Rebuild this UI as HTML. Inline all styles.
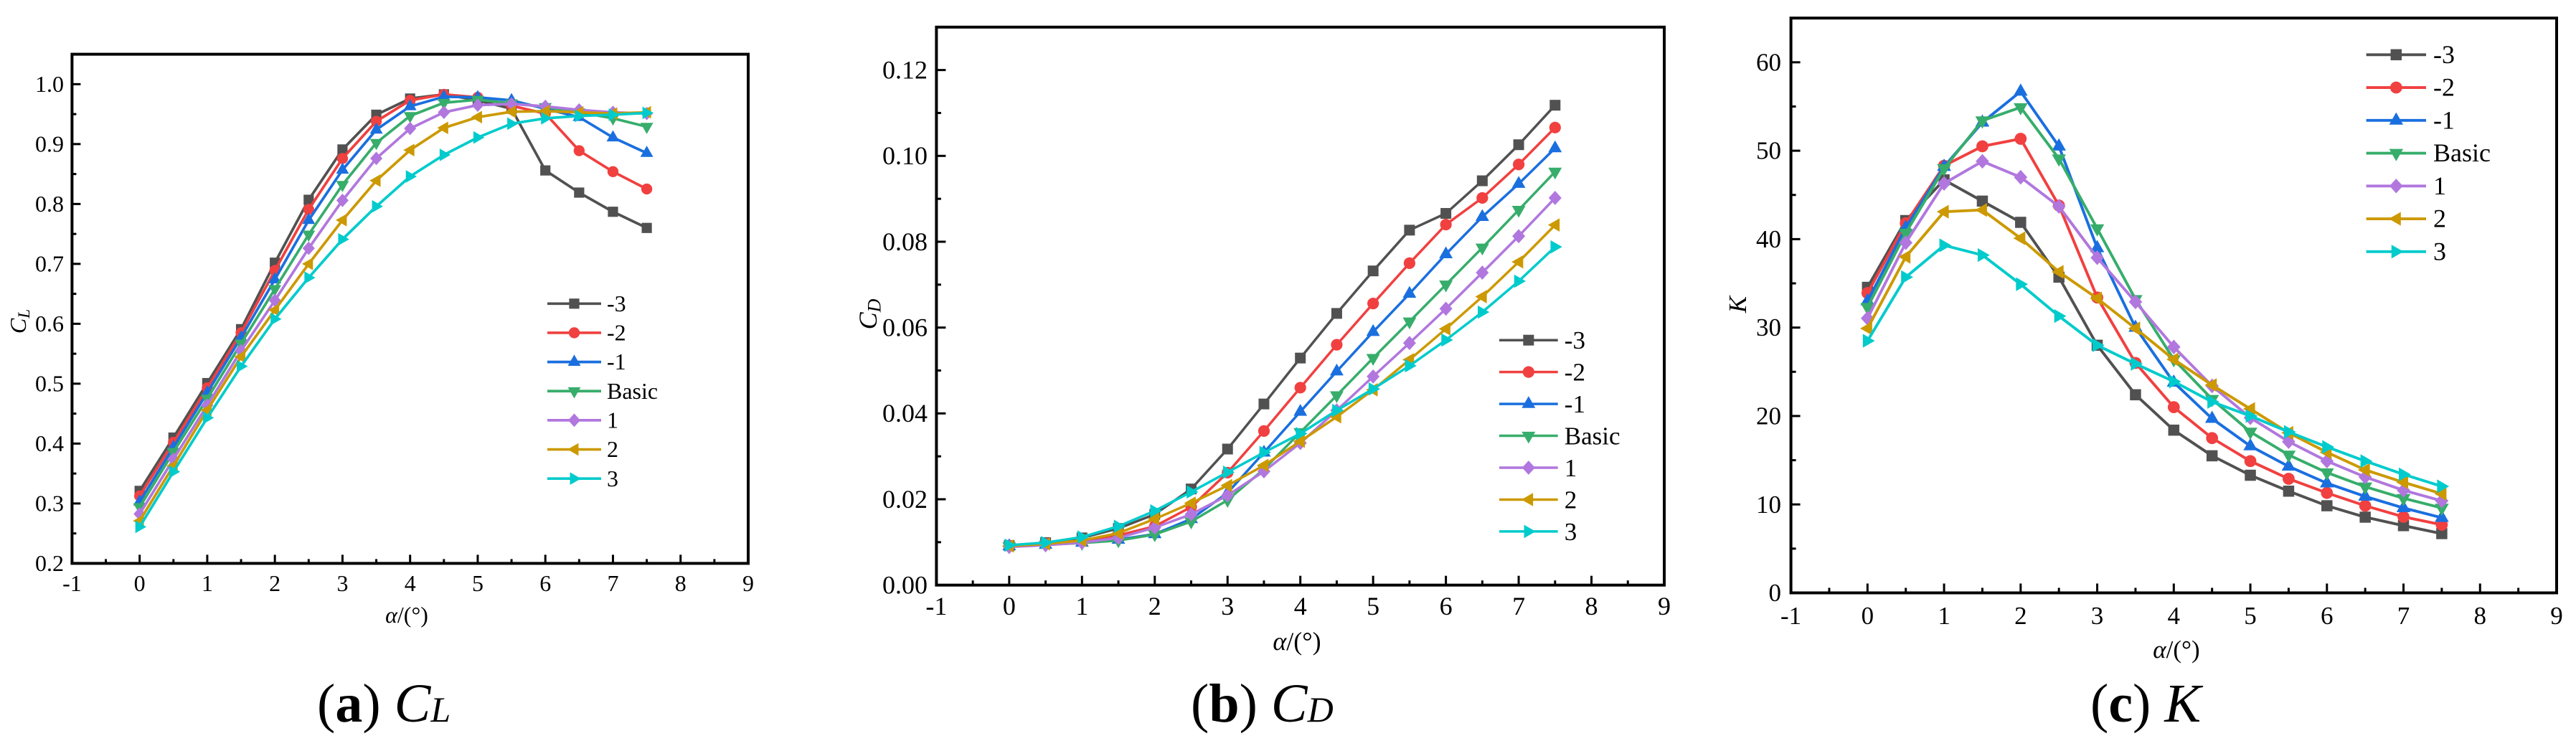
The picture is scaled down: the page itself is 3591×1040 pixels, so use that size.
<!DOCTYPE html>
<html lang="en">
<head>
<meta charset="utf-8">
<title>CL, CD and K versus angle of attack</title>
<style>
html,body{margin:0;padding:0;background:#fff;}
body{width:3591px;height:1040px;overflow:hidden;}
svg{display:block;}
text{font-family:"Liberation Serif",serif;fill:#000;}
</style>
</head>
<body>
<svg id="figure" xmlns="http://www.w3.org/2000/svg" width="3591" height="1040" viewBox="0 0 3591 1040">
  <rect x="0" y="0" width="3591" height="1040" fill="#ffffff"/>
  <text x="442" y="1006" font-size="76">(<tspan font-weight="bold">a</tspan>) <tspan font-style="italic">C</tspan><tspan font-style="italic" font-size="50">L</tspan></text>
  <text x="1660" y="1006" font-size="76">(<tspan font-weight="bold">b</tspan>) <tspan font-style="italic">C</tspan><tspan font-style="italic" font-size="50">D</tspan></text>
  <text x="2914" y="1006" font-size="76">(<tspan font-weight="bold">c</tspan>) <tspan font-style="italic">K</tspan></text>
</svg>
<script>
const alphaValues = [0,0.5,1,1.5,2,2.5,3,3.5,4,4.5,5,5.5,6,6.5,7,7.5];
const seriesNames = ['-3','-2','-1','Basic','1','2','3'];
const xTickLabels = [-1,0,1,2,3,4,5,6,7,8,9];

const clTicks = [0.2,0.3,0.4,0.5,0.6,0.7,0.8,0.9,1.0];
const clMinus3 = [.321,.41,.501,.591,.702,.807,.891,.949,.976,.983,.973,.959,.856,.819,.787,.760];
const clMinus2 = [.3126,.402,.493,.585,.689,.791,.876,.938,.973,.983,.978,.964,.951,.889,.854,.825];
const clMinus1 = [.303,.394,.485,.577,.674,.773,.857,.924,.963,.979,.978,.973,.959,.945,.911,.885];
const clBasic = [.294,.386,.475,.567,.658,.749,.832,.902,.947,.969,.974,.968,.962,.953,.943,.929];
const clPlus1 = [.2825,.374,.464,.555,.639,.726,.806,.876,.926,.953,.965,.967,.963,.957,.953,.951];
const clPlus2 = [.271,.363,.456,.545,.623,.70,.773,.839,.89,.927,.945,.954,.955,.953,.951,.953];
const clPlus3 = [.261,.353,.443,.529,.608,.677,.741,.796,.846,.882,.911,.934,.943,.947,.949,.952];

const cdTicks = [0,0.02,0.04,0.06,0.08,0.10,0.12];
const cdMinus3 = [.0092,.0099,.011,.0132,.0165,.0224,.0317,.0422,.0529,.0633,.0732,.0827,.0866,.0942,.1026,.1118];
const cdMinus2 = [.0092,.0097,.0104,.0116,.0137,.0182,.0262,.0359,.046,.056,.0656,.075,.084,.0902,.098,.1066];
const cdMinus1 = [.0091,.0094,.0099,.0106,.0119,.0154,.0215,.0309,.0404,.0498,.059,.0679,.0771,.0858,.0935,.1018];
const cdBasic = [.009,.0094,.0098,.0104,.0118,.0148,.0198,.027,.0356,.0442,.0529,.0614,.07,.0786,.0874,.0963];
const cdPlus1 = [.0089,.0093,.0099,.011,.0134,.0165,.0209,.0265,.0331,.0407,.0486,.0564,.0644,.0728,.0813,.0902];
const cdPlus2 = [.0091,.0096,.0104,.0121,.0154,.0191,.0232,.0279,.0335,.0392,.0455,.0525,.0597,.0672,.0753,.0839];
const cdPlus3 = [.0093,.0099,.0112,.0137,.0173,.0217,.0263,.0309,.0353,.0407,.0457,.0511,.0571,.0636,.0708,.0788];

const kTicks = [0,10,20,30,40,50,60];
const kMinus3 = [34.55,42.1,46.7,44.3,41.9,35.7,28.0,22.4,18.4,15.5,13.3,11.5,9.85,8.56,7.6,6.7];
const kMinus2 = [33.9,41.8,48.3,50.5,51.35,43.8,33.4,26.0,21.0,17.5,14.9,12.9,11.3,9.85,8.6,7.7];
const kMinus1 = [33.0,41.3,48.2,53.2,56.7,50.5,39.0,30.0,23.8,19.7,16.6,14.3,12.4,10.9,9.6,8.5];
const kBasic = [32.3,40.7,48,53.4,54.9,49.1,41.2,33.2,26.4,21.9,18.2,15.6,13.6,12,10.7,9.6];
const kPlus1 = [31.05,39.6,46.3,48.8,47,43.7,37.9,32.9,27.8,23.4,19.8,17.1,14.9,13.1,11.6,10.4];
const kPlus2 = [29.9,38,43.1,43.3,40.1,36.3,33.3,29.9,26.4,23.5,20.8,18.1,15.9,13.9,12.5,11.2];
const kPlus3 = [28.5,35.7,39.3,38.2,34.9,31.3,28,25.9,23.9,21.6,20,18.2,16.5,14.9,13.4,12.05];

const colors = ['#515151','#F14040','#1A6FDF','#37AD6B','#B177DE','#CC9900','#00CBCC'];
const markerKinds = ['square','circle','up','down','diamond','left','right'];
const SVG_NS = 'http://www.w3.org/2000/svg';
const figure = document.getElementById('figure');

function make(tag, attrs, parent) {
  const el = document.createElementNS(SVG_NS, tag);
  for (const k in attrs) el.setAttribute(k, attrs[k]);
  parent.appendChild(el);
  return el;
}

function drawMarker(kind, cx, cy, s, color, parent) {
  let el;
  if (kind === 'square') {
    const h = s * 0.5;
    el = make('rect', {x: cx - h, y: cy - h, width: 2 * h, height: 2 * h, fill: color}, parent);
  } else if (kind === 'circle') {
    el = make('circle', {cx: cx, cy: cy, r: s * 0.54, fill: color}, parent);
  } else {
    const a = s * 0.63, b = s * 0.72, c = s * 0.38;
    const sa = s * 0.62, sb = s * 0.66, sc = s * 0.42;
    let pts;
    if (kind === 'up') pts = [[cx, cy - b], [cx + a, cy + c], [cx - a, cy + c]];
    if (kind === 'down') pts = [[cx, cy + b], [cx + a, cy - c], [cx - a, cy - c]];
    if (kind === 'left') pts = [[cx - sb, cy], [cx + sc, cy - sa], [cx + sc, cy + sa]];
    if (kind === 'right') pts = [[cx + sb, cy], [cx - sc, cy - sa], [cx - sc, cy + sa]];
    if (kind === 'diamond') pts = [[cx, cy - s * 0.66], [cx + s * 0.6, cy], [cx, cy + s * 0.66], [cx - s * 0.6, cy]];
    el = make('polygon', {points: pts.map(function (p) { return p.join(','); }).join(' '), fill: color}, parent);
  }
  
  
  return el;
}

function drawPanel(p) {
  const xScale = function (v) { return p.left + (v - p.xMin) / (p.xMax - p.xMin) * (p.right - p.left); };
  const yScale = function (v) { return p.bottom - (v - p.yMin) / (p.yMax - p.yMin) * (p.bottom - p.top); };

  const g = make('g', {}, figure);
  
  

  const frame = make('rect', {x: p.left, y: p.top, width: p.right - p.left, height: p.bottom - p.top, fill: 'none', stroke: '#000', 'stroke-width': p.axisWidth}, g);
  
  

  const xAxis = make('g', {}, g);
  
  
  xTickLabels.forEach(function (t) {
    const x = xScale(t);
    const tick = make('line', {x1: x, x2: x, y1: p.bottom, y2: p.bottom - p.majorTick, stroke: '#000', 'stroke-width': p.tickWidth}, xAxis);
    
    
    if (t < p.xMax) {
      const xm = xScale(t + 0.5);
      const minor = make('line', {x1: xm, x2: xm, y1: p.bottom, y2: p.bottom - p.minorTick, stroke: '#000', 'stroke-width': p.tickWidth}, xAxis);
      
      
    }
    const label = make('text', {x: x, y: p.xLabelY, 'font-size': p.fontSize, 'text-anchor': 'middle'}, xAxis);
    label.textContent = String(t);
    
    
  });

  const yAxis = make('g', {}, g);
  
  
  p.yTicks.forEach(function (t, i) {
    const y = yScale(t);
    const tick = make('line', {x1: p.left, x2: p.left + p.majorTick, y1: y, y2: y, stroke: '#000', 'stroke-width': p.tickWidth}, yAxis);
    
    
    const step = p.yTicks[1] - p.yTicks[0];
    const ym = yScale(t + step / 2);
    const minor = make('line', {x1: p.left, x2: p.left + p.minorTick, y1: ym, y2: ym, stroke: '#000', 'stroke-width': p.tickWidth}, yAxis);
    
    
    const label = make('text', {x: p.yLabelX, y: y + p.fontSize * 0.33, 'font-size': p.fontSize, 'text-anchor': 'end'}, yAxis);
    label.textContent = t.toFixed(p.decimals);
    
    
  });

  const xTitle = make('text', {x: p.xTitleX, y: p.xTitleY, 'font-size': p.fontSize, 'text-anchor': 'middle'}, g);
  
  
  const alphaSpan = make('tspan', {'font-style': 'italic'}, xTitle);
  alphaSpan.textContent = 'α';
  const restSpan = make('tspan', {}, xTitle);
  restSpan.textContent = '/(°)';

  const yTitle = make('text', {x: p.yTitleX, y: p.yTitleY, 'font-size': p.fontSize, 'font-style': 'italic', 'text-anchor': 'middle', transform: 'rotate(-90 ' + p.yTitleX + ' ' + p.yTitleY + ')'}, g);
  
  
  const mainSpan = make('tspan', {}, yTitle);
  mainSpan.textContent = p.yTitleMain;
  if (p.yTitleSub) {
    const subSpan = make('tspan', {'font-size': p.fontSize * 0.72, dy: p.fontSize * 0.15}, yTitle);
    subSpan.textContent = p.yTitleSub;
  }

  p.series.forEach(function (values, i) {
    const sg = make('g', {}, g);
    
    
    const pts = values.map(function (v, j) { return xScale(alphaValues[j]) + ',' + yScale(v); }).join(' ');
    const line = make('polyline', {points: pts, fill: 'none', stroke: colors[i], 'stroke-width': p.lineWidth, 'stroke-linejoin': 'round'}, sg);
    
    
    values.forEach(function (v, j) {
      drawMarker(markerKinds[i], xScale(alphaValues[j]), yScale(v), p.markerSize, colors[i], sg);
    });
  });

  const legend = make('g', {}, g);
  
  
  seriesNames.forEach(function (name, i) {
    const y = p.legendY + i * p.legendStep;
    const entry = make('g', {}, legend);
    
    
    const swatch = make('line', {x1: p.legendX1, x2: p.legendX2, y1: y, y2: y, stroke: colors[i], 'stroke-width': p.lineWidth}, entry);
    
    
    drawMarker(markerKinds[i], (p.legendX1 + p.legendX2) / 2, y, p.markerSize, colors[i], entry);
    const label = make('text', {x: p.legendTextX, y: y + p.fontSize * 0.33, 'font-size': p.legendFont}, entry);
    label.textContent = name;
    
    
  });
}

drawPanel({
  id: 'chart-cl', left: 100.4, right: 1043, top: 75.6, bottom: 785.4,
  xMin: -1, xMax: 9, yMin: 0.2, yMax: 1.05, yTicks: clTicks, decimals: 1,
  series: [clMinus3, clMinus2, clMinus1, clBasic, clPlus1, clPlus2, clPlus3],
  axisWidth: 4, tickWidth: 3, majorTick: 12, minorTick: 6, lineWidth: 3.7, markerSize: 14.2,
  fontSize: 32, legendFont: 32, xLabelY: 824, yLabelX: 89,
  xTitleX: 567, xTitleY: 868, yTitleX: 36, yTitleY: 448, yTitleMain: 'C', yTitleSub: 'L',
  legendX1: 763, legendX2: 838, legendTextX: 846, legendY: 423.3, legendStep: 40.65
});
drawPanel({
  id: 'chart-cd', left: 1305.4, right: 2320, top: 37.8, bottom: 815.7,
  xMin: -1, xMax: 9, yMin: 0, yMax: 0.13, yTicks: cdTicks, decimals: 2,
  series: [cdMinus3, cdMinus2, cdMinus1, cdBasic, cdPlus1, cdPlus2, cdPlus3],
  axisWidth: 4, tickWidth: 3, majorTick: 13, minorTick: 6.5, lineWidth: 3.5, markerSize: 15,
  fontSize: 36, legendFont: 35, xLabelY: 857, yLabelX: 1293,
  xTitleX: 1808, xTitleY: 906, yTitleX: 1222, yTitleY: 438, yTitleMain: 'C', yTitleSub: 'D',
  legendX1: 2090, legendX2: 2171.7, legendTextX: 2180.8, legendY: 474.2, legendStep: 44.45
});
drawPanel({
  id: 'chart-k', left: 2496.6, right: 3564, top: 25.2, bottom: 826.5,
  xMin: -1, xMax: 9, yMin: 0, yMax: 65, yTicks: kTicks, decimals: 0,
  series: [kMinus3, kMinus2, kMinus1, kBasic, kPlus1, kPlus2, kPlus3],
  axisWidth: 4, tickWidth: 3, majorTick: 13, minorTick: 7, lineWidth: 3.9, markerSize: 15.5,
  fontSize: 35, legendFont: 36, xLabelY: 870, yLabelX: 2483,
  xTitleX: 3034, xTitleY: 917, yTitleX: 2434, yTitleY: 424.5, yTitleMain: 'K', yTitleSub: '',
  legendX1: 3298.6, legendX2: 3382, legendTextX: 3392, legendY: 76.3, legendStep: 45.75
});
</script>
</body>
</html>
